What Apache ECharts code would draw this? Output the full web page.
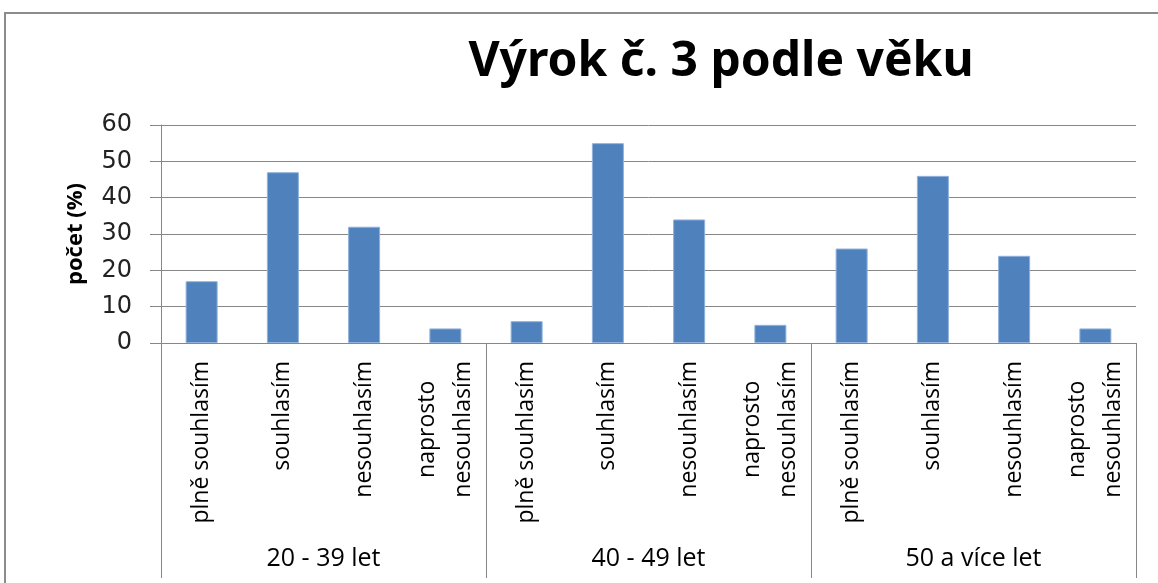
<!DOCTYPE html>
<html>
<head>
<meta charset="utf-8">
<script src="https://cdn.jsdelivr.net/npm/echarts@6/dist/echarts.min.js"></script>
<style>
html,body{margin:0;padding:0;background:#fff;}
#chart{width:1158px;height:583px;}
</style>
</head>
<body>
<div id="chart"></div>
<script>
const titleText = 'Výrok č. 3 podle věku';
const yAxisName = 'počet (%)';
const answers = ['plně souhlasím', 'souhlasím', 'nesouhlasím', 'naprosto\nnesouhlasím'];
const groups = ['20 - 39 let', '40 - 49 let', '50 a více let'];
const values2039 = [17, 47, 32, 4];
const values4049 = [6, 55, 34, 5];
const values50plus = [26, 46, 24, 4];

const categories = [].concat(answers, answers, answers);
const values = [].concat(values2039, values4049, values50plus);

const chart = echarts.init(document.getElementById('chart'));
const gray = '#878787';
const font = 'Open Sans';
chart.setOption({
  animation: false,
  backgroundColor: '#fff',
  graphic: [{
    type: 'rect',
    shape: {x: 5, y: 13, width: 1170, height: 600},
    style: {fill: 'none', stroke: '#8c8c8c', lineWidth: 2},
    silent: true
  }],
  title: {
    text: titleText,
    left: 716,
    top: 33,
    textAlign: 'center',
    textStyle: {fontFamily: 'Noto Sans', fontWeight: 'bold', fontSize: 48, color: '#000'}
  },
  grid: {left: 161, right: 22, top: 125, bottom: 240, containLabel: false},
  xAxis: [{
    type: 'category',
    data: categories,
    axisLine: {show: true, lineStyle: {color: gray, width: 1}},
    axisTick: {show: false},
    axisLabel: {
      interval: 0,
      rotate: 90,
      margin: 18,
      formatter: function (v) { return v.split('\n').map(function (s) { return '{c|' + s + '}'; }).join('\n'); },
      rich: {c: {align: 'center', fontFamily: font, fontSize: 23, color: '#000', lineHeight: 36}}
    }
  }, {
    type: 'category',
    data: groups,
    position: 'bottom',
    offset: 235,
    axisLine: {show: false},
    axisTick: {show: true, inside: true, length: 235, interval: 0, lineStyle: {color: gray, width: 1}},
    axisLabel: {inside: true, margin: 7, interval: 0, fontFamily: font, fontSize: 25, color: '#000'}
  }],
  yAxis: {
    type: 'value',
    min: 0,
    max: 60,
    interval: 10,
    name: yAxisName,
    nameLocation: 'middle',
    nameGap: 74,
    nameTextStyle: {fontFamily: font, fontWeight: 'bold', fontSize: 22, color: '#000'},
    axisLine: {show: true, lineStyle: {color: gray, width: 1}},
    axisTick: {show: true, length: 11, lineStyle: {color: gray, width: 1}},
    axisLabel: {margin: 29, fontFamily: 'DejaVu Sans', fontSize: 24, color: '#222'},
    splitLine: {show: true, lineStyle: {color: gray, width: 1}}
  },
  series: [{
    type: 'bar',
    data: values,
    xAxisIndex: 0,
    barWidth: 32,
    itemStyle: {color: '#4F81BD', borderColor: '#8fb1dc', borderWidth: 1}
  }]
});
</script>
</body>
</html>
